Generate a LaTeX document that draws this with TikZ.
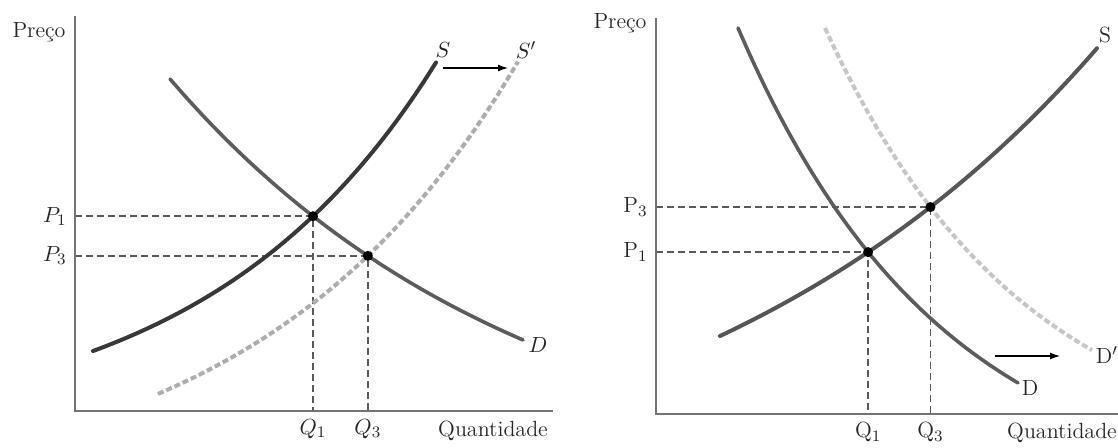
\documentclass[tikz,border=0pt]{standalone}
\usepackage{tikz}
\usepackage{amsmath}
\usetikzlibrary{arrows.meta,positioning,intersections}

\definecolor{axisgray}{gray}{0.45}
\definecolor{guidegray}{gray}{0.35}
\definecolor{supplydark}{gray}{0.22}
\definecolor{demandgray}{gray}{0.36}
\definecolor{shiftgray}{gray}{0.68}

\pgfdeclarelayer{background}
\pgfsetlayers{background,main}

\begin{document}
\begin{tikzpicture}[x=0.5pt,y=-0.5pt,
    axis/.style={line width=1pt, draw=axisgray},
    supply/.style={line width=2pt, draw=supplydark, line cap=round},
    demand/.style={line width=1.8pt, draw=demandgray, line cap=round},
    shifted/.style={line width=2pt, draw=shiftgray, dash pattern=on 3pt off 1.5pt},
    guide/.style={line width=0.7pt, draw=guidegray, dash pattern=on 3.5pt off 2pt},
    dot/.style={circle, fill=black, inner sep=0pt, minimum size=5pt},
    lbl/.style={font=\fontsize{11}{13}\selectfont, inner sep=1pt, text=black!85},
    shiftarrow/.style={line width=0.6pt, -{Latex[length=5pt,width=3.5pt]}},
]
    \useasboundingbox (0,0) rectangle (1118,447);

    % --- left panel: supply shifts right ---
    \coordinate (ltop) at (75,16);
    \coordinate (lo) at (75,411);
    \coordinate (lend) at (553,411);
    \draw[axis] (ltop) -- (lo) -- (lend);

    % curves
    \draw[shifted, name path=lsp] plot[domain=0:360, samples=80] ({158+\x}, {411-(-94.8+111.9*exp(0.00383*\x))});
    \draw[supply, name path=ls] plot[domain=0:343, samples=80] ({93+\x}, {411-(-25.5+85.5*exp(0.0043*\x))});
    \draw[demand, name path=ld] plot[domain=0:353, samples=80] ({170+\x}, {411-(-83+415*exp(-0.0028*\x))});

    \path[name intersections={of=ls and ld, by=le1}];
    \path[name intersections={of=lsp and ld, by=le3}];
    \node[dot] (de1) at (le1) {};
    \node[dot] (de3) at (le3) {};

    % guides
    \begin{pgfonlayer}{background}
    \draw[guide] (lo |- le1) -- (le1) -- (le1 |- lo);
    \draw[guide] (lo |- le3) -- (le3) -- (le3 |- lo);
    \end{pgfonlayer}

    % shift arrow
    \coordinate (lsa) at (443,68);
    \coordinate (lsb) at (508,68);
    \draw[shiftarrow] (lsa) -- (lsb);

    % labels
    \node[lbl] (lprice) at (39,32) {Preço};
    \node[lbl, anchor=east, xshift=-3pt] (lp1) at (lo |- le1) {$P_1$};
    \node[lbl, anchor=east, xshift=-3pt] (lp3) at (lo |- le3) {$P_3$};
    \node[lbl, anchor=north, yshift=-3pt] (lq1) at (le1 |- lo) {$Q_1$};
    \node[lbl, anchor=north, yshift=-3pt] (lq3) at (le3 |- lo) {$Q_3$};
    \node[lbl] (lqty) at (493,431) {Quantidade};
    \node[lbl] (lls) at (443,50) {$S$};
    \node[lbl] (llsp) at (526,50) {$S'$};
    \node[lbl] (lld) at (538,345) {$D$};

    % --- right panel: demand shifts right ---
    \coordinate (rtop) at (656,18);
    \coordinate (ro) at (656,414);
    \coordinate (rend) at (1118,414);
    \draw[axis] (rtop) -- (ro) -- (rend);

    % curves
    \draw[shifted, draw=gray!45, name path=rdp] plot[domain=0:267, samples=80] ({825+\x}, {414-(-51+437*exp(-0.005*\x))});
    \draw[demand, name path=rd] plot[domain=0:280, samples=80] ({738+\x}, {414-(-89.6+475.6*exp(-0.0049*\x))});
    \draw[supply, draw=supplydark!85, name path=rs] plot[domain=0:377, samples=80] ({720+\x}, {414-(-122+200*exp(0.00237*\x))});

    \path[name intersections={of=rs and rd, by=re1}];
    \path[name intersections={of=rs and rdp, by=re3}];
    \node[dot] (dre1) at (re1) {};
    \node[dot] (dre3) at (re3) {};

    % guides
    \begin{pgfonlayer}{background}
    \draw[guide] (ro |- re1) -- (re1) -- (re1 |- ro);
    \draw[guide] (ro |- re3) -- (re3) -- (re3 |- ro);
    \end{pgfonlayer}

    % shift arrow
    \coordinate (rsa) at (995,356);
    \coordinate (rsb) at (1060,356);
    \draw[shiftarrow] (rsa) -- (rsb);

    % labels
    \node[lbl] (rprice) at (620,23) {Preço};
    \node[lbl, anchor=east, xshift=-3pt] (rp3) at (ro |- re3) {P$_3$};
    \node[lbl, anchor=east, xshift=-3pt] (rp1) at (ro |- re1) {P$_1$};
    \node[lbl, anchor=north, yshift=-3pt] (rq1) at (re1 |- ro) {Q$_1$};
    \node[lbl, anchor=north, yshift=-3pt] (rq3) at (re3 |- ro) {Q$_3$};
    \node[lbl] (rqty) at (1062,433) {Quantidade};
    \node[lbl] (rrs) at (1105,35) {S};
    \node[lbl] (rrdp) at (1107,355) {D$'$};
    \node[lbl] (rrd) at (1030,388) {D};

\end{tikzpicture}
\end{document}
